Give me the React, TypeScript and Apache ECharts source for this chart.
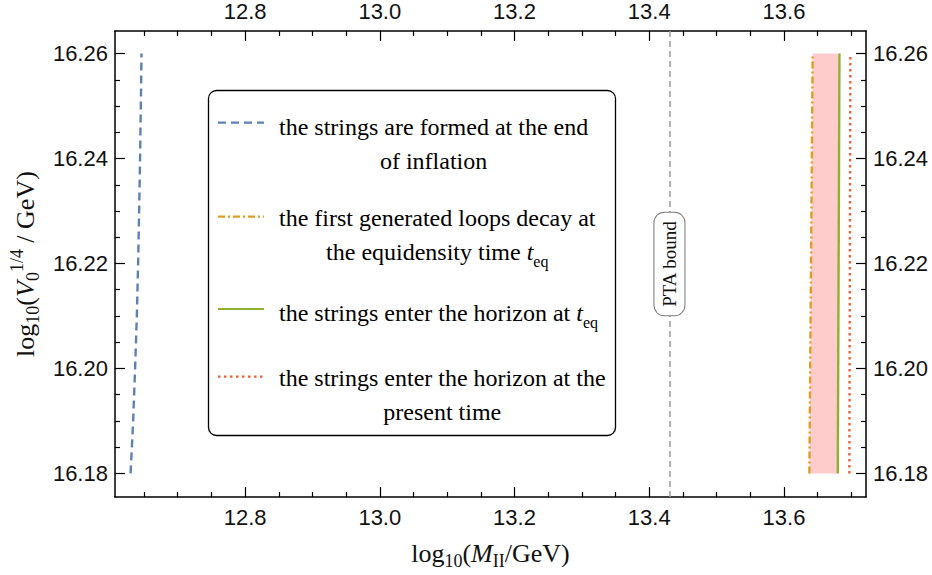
import React, { useEffect, useRef } from "react";
import * as echarts from "echarts";

// ---- axis ranges & ticks ----
const xRange = [12.6068, 13.7218];
const yRange = [16.1755, 16.2643];
const xMajorTicks = [12.8, 13.0, 13.2, 13.4, 13.6];
const xMinorTicks = [12.65, 12.7, 12.75, 12.85, 12.9, 12.95, 13.05, 13.1, 13.15, 13.25, 13.3, 13.35, 13.45, 13.5, 13.55, 13.65, 13.7];
const yMajorTicks = [16.18, 16.2, 16.22, 16.24, 16.26];
const yMinorTicks = [16.185, 16.19, 16.195, 16.205, 16.21, 16.215, 16.225, 16.23, 16.235, 16.245, 16.25, 16.255];

// ---- series data ----
// strings formed at end of inflation (blue dashed)
const endInflationY = [16.18, 16.19, 16.2, 16.21, 16.22, 16.23, 16.24, 16.25, 16.26];
const endInflationX = [12.63, 12.6338, 12.6367, 12.6393, 12.6412, 12.6427, 12.6441, 12.6452, 12.6462];
// first loops decay at t_eq (orange dot-dashed)
const loopsDecayY = [16.18, 16.26];
const loopsDecayX = [13.6377, 13.6426];
// strings enter horizon at t_eq (green solid)
const horizonEqY = [16.18, 16.26];
const horizonEqX = [13.6799, 13.6824];
// strings enter horizon at present (red dotted)
const horizonNowY = [16.18, 16.26];
const horizonNowX = [13.6971, 13.6986];
// PTA bound
const ptaBound = 13.428;
const ptaLabelY = 16.22;

const SERIF = '"Liberation Serif", "Times New Roman", serif';
const SANS = '"Liberation Sans", Arial, sans-serif';

const BLUE = "#5E81B5";
const ORANGE = "#E19C24";
const GREEN = "#8FB032";
const RED = "#EB6235";
const PINK = "#FFCCCC";

const pairs = (xs: number[], ys: number[]) => xs.map((x, i) => [x, ys[i]]);

export default function App() {
  const ref = useRef<HTMLDivElement>(null);
  useEffect(() => {
    if (!ref.current) return;
    const chart = echarts.init(ref.current, undefined, { renderer: "svg" });

    const frame = { show: true, onZero: false, lineStyle: { color: "#000", width: 1.5 } };
    const tickLine = { color: "#000", width: 1.2 };
    const lblStyle = { fontFamily: SANS, fontSize: 22, color: "#111" };

    const xMajor = (pos: string) => ({
      type: "value",
      position: pos,
      min: xRange[0],
      max: xRange[1],
      gridIndex: 0,
      axisLine: frame,
      axisTick: { show: true, inside: true, length: 10, customValues: xMajorTicks, lineStyle: tickLine },
      axisLabel: { show: true, customValues: xMajorTicks, margin: 9, formatter: (v: number) => v.toFixed(1), ...lblStyle },
      splitLine: { show: false },
    });
    const xMinor = (pos: string) => ({
      type: "value",
      position: pos,
      min: xRange[0],
      max: xRange[1],
      axisLine: { show: false, onZero: false },
      axisTick: { show: true, inside: true, length: 5, customValues: xMinorTicks, lineStyle: tickLine },
      axisLabel: { show: false },
      splitLine: { show: false },
    });
    const yMajor = (pos: string) => ({
      type: "value",
      position: pos,
      min: yRange[0],
      max: yRange[1],
      axisLine: frame,
      axisTick: { show: true, inside: true, length: 10, customValues: yMajorTicks, lineStyle: tickLine },
      axisLabel: { show: true, customValues: yMajorTicks, margin: 7, formatter: (v: number) => v.toFixed(2), ...lblStyle },
      splitLine: { show: false },
    });
    const yMinor = (pos: string) => ({
      type: "value",
      position: pos,
      min: yRange[0],
      max: yRange[1],
      axisLine: { show: false, onZero: false },
      axisTick: { show: true, inside: true, length: 5, customValues: yMinorTicks, lineStyle: tickLine },
      axisLabel: { show: false },
      splitLine: { show: false },
    });

    const titleRich = {
      n: { fontFamily: SERIF, fontSize: 26, lineHeight: 34, color: "#111" },
      i: { fontFamily: SERIF, fontSize: 26, lineHeight: 34, fontStyle: "italic", color: "#111" },
      s: { fontFamily: SERIF, fontSize: 18, lineHeight: 18, verticalAlign: "bottom", color: "#111" },
      p: { fontFamily: SERIF, fontSize: 18, lineHeight: 18, verticalAlign: "top", color: "#111" },
    };

    const xTitleAxis: any = xMajor("bottom");
    xTitleAxis.name = "{n|log}{s|10}{n|(}{i|M}{s|II}{n|/GeV)}";
    xTitleAxis.nameLocation = "middle";
    xTitleAxis.nameGap = 39;
    xTitleAxis.nameTextStyle = { rich: titleRich };

    const yTitleAxis: any = yMajor("left");
    yTitleAxis.name = "{n|log}{s|10}{n|(}{i|V}{s|0}{p|1/4}{n| / GeV)}";
    yTitleAxis.nameLocation = "middle";
    yTitleAxis.nameRotate = 90;
    yTitleAxis.nameGap = 66;
    yTitleAxis.nameTextStyle = { rich: titleRich };

    const bandPoly = [
      ...pairs(loopsDecayX, loopsDecayY),
      ...pairs(horizonEqX, horizonEqY).reverse(),
    ];

    const legRich = {
      n: { fontFamily: SERIF, fontSize: 24, lineHeight: 34, color: "#111", align: "center" },
      i: { fontFamily: SERIF, fontSize: 24, lineHeight: 34, color: "#111", fontStyle: "italic", align: "center" },
      s: { fontFamily: SERIF, fontSize: 16, lineHeight: 20, color: "#111", verticalAlign: "bottom", align: "center" },
    };
    const legText = (y: number, text: string) => ({
      type: "text",
      x: 279,
      y,
      z: 102,
      style: { text, rich: legRich, align: "left", textAlign: "left", verticalAlign: "top", textVerticalAlign: "top" },
    });
    const legLine = (y: number, color: string, dash: number[] | null) => ({
      type: "line",
      z: 101,
      shape: { x1: 218, y1: y, x2: 264, y2: y },
      style: { stroke: color, lineWidth: 2.2, lineDash: dash || undefined },
    });

    const option: any = {
      animation: false,
      backgroundColor: "#fff",
      grid: { left: 110, top: 31, right: 66, bottom: 78, containLabel: false },
      xAxis: [xTitleAxis, xMajor("top"), xMinor("bottom"), xMinor("top")],
      yAxis: [yTitleAxis, yMajor("right"), yMinor("left"), yMinor("right")],
      series: [
        {
          type: "custom",
          name: "band",
          xAxisIndex: 0,
          yAxisIndex: 0,
          z: 1,
          silent: true,
          data: bandPoly,
          encode: { x: 0, y: 1 },
          renderItem: (params: any, api: any) => {
            if (params.dataIndex !== 0) return null;
            const pts = bandPoly.map((p) => api.coord(p));
            return { type: "polygon", shape: { points: pts }, style: { fill: PINK } };
          },
        },
        {
          type: "line",
          name: "the strings are formed at the end of inflation",
          data: pairs(endInflationX, endInflationY),
          symbol: "none",
          z: 3,
          lineStyle: { color: BLUE, width: 2.4, type: [8, 5] },
          markLine: {
            silent: true,
            symbol: ["none", "none"],
            lineStyle: { color: "#9a9a9a", width: 1.5, type: [6, 4] },
            label: {
              show: true,
              position: "middle",
              formatter: "PTA bound",
              fontFamily: SERIF,
              fontSize: 19,
              lineHeight: 20,
              color: "#111",
              backgroundColor: "#fff",
              borderColor: "#777",
              borderWidth: 1,
              borderRadius: 10,
              padding: [5, 8, 5, 8],
              distance: -15,
            },
            data: [{ xAxis: ptaBound }],
          },
        },
        {
          type: "line",
          name: "the first generated loops decay at the equidensity time",
          data: pairs(loopsDecayX, loopsDecayY),
          symbol: "none",
          z: 3,
          lineStyle: { color: ORANGE, width: 2.4, type: [7, 3, 2, 3] },
        },
        {
          type: "line",
          name: "the strings enter the horizon at t_eq",
          data: pairs(horizonEqX, horizonEqY),
          symbol: "none",
          z: 3,
          lineStyle: { color: GREEN, width: 2.4 },
        },
        {
          type: "line",
          name: "the strings enter the horizon at the present time",
          data: pairs(horizonNowX, horizonNowY),
          symbol: "none",
          z: 3,
          lineStyle: { color: RED, width: 2.4, type: [2.5, 3.5] },
        },
      ],
      graphic: [
        {
          type: "rect",
          z: 100,
          shape: { x: 208.5, y: 90.5, width: 407, height: 345, r: 8 },
          style: { fill: "#fff", stroke: "#000", lineWidth: 1.3 },
        },
        legLine(122.7, BLUE, [8, 5]),
        legLine(216.7, ORANGE, [7, 3, 2, 3]),
        legLine(309, GREEN, null),
        legLine(376.7, RED, [2.5, 3.5]),
        legText(110, "{n|the strings are formed at the end}\n{n|of inflation}"),
        legText(201, "{n|the first generated loops decay at}\n{n|the equidensity time }{i|t}{s|eq}"),
        legText(296, "{n|the strings enter the horizon at }{i|t}{s|eq}"),
        legText(361, "{n|the strings enter the horizon at the}\n{n|present time}"),
      ],
    };
    chart.setOption(option);
    return () => chart.dispose();
  }, []);
  return (
    <div
      ref={ref}
      style={{ position: "fixed", left: 0, top: 0, width: 932, height: 575, background: "#fff" }}
    />
  );
}
